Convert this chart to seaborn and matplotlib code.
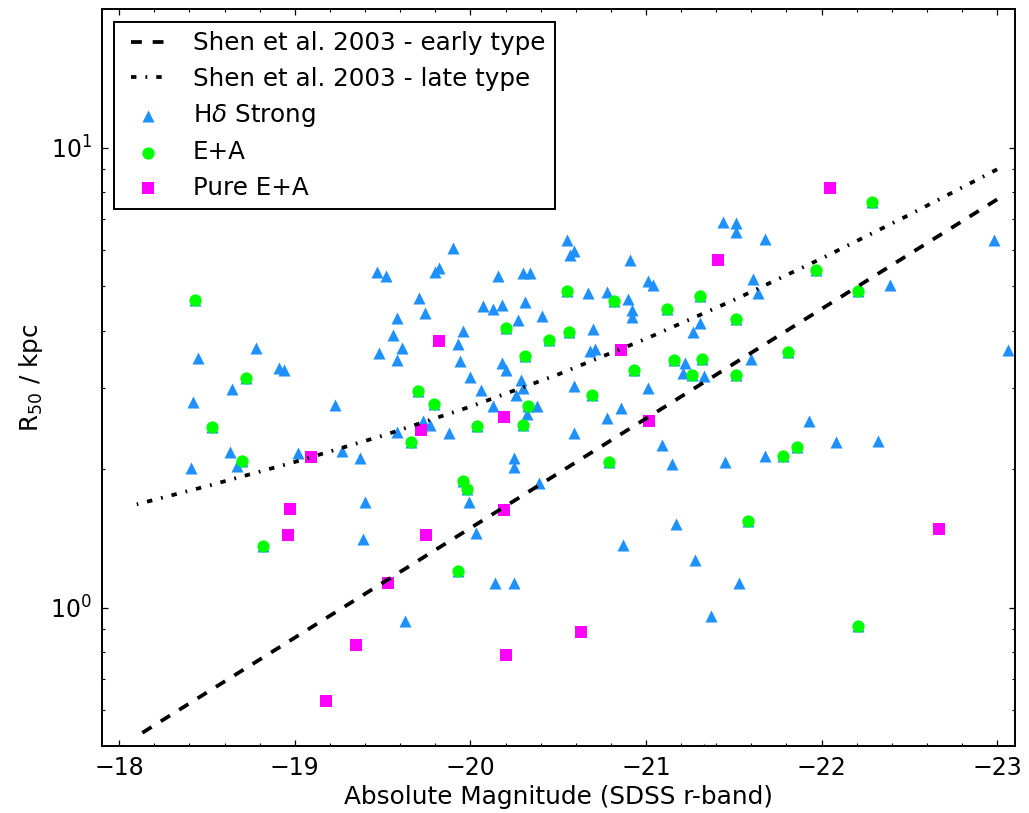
import matplotlib
matplotlib.use("Agg")
import matplotlib.pyplot as plt
import seaborn as sns
import numpy as np

# H-delta strong galaxies (triangles only; E+A objects get a triangle too)
hd_mag = [-19.47, -19.52, -19.58, -19.56, -19.61, -19.48, -19.58, -18.78, -18.45, -18.91,
          -18.94, -18.64, -18.42, -19.23, -18.63, -18.67, -18.41, -19.02, -19.27, -19.37,
          -19.58, -19.40, -19.39, -19.90, -19.80, -19.82, -20.55, -20.57, -20.59, -20.91,
          -21.01, -21.04, -20.16, -20.30, -20.34, -20.67, -20.78, -20.90, -20.92, -20.92,
          -19.71, -19.74, -20.07, -20.13, -20.18, -20.31, -20.27, -20.41, -19.96, -19.93,
          -20.70, -20.68, -20.71, -21.31, -21.27, -20.18, -19.94, -21.22, -21.21, -21.33,
          -20.20, -20.00, -20.06, -20.29, -20.30, -20.26, -20.59, -21.01, -20.13, -20.38,
          -20.32, -20.86, -20.78, -19.88, -19.73, -19.77, -20.59, -21.09, -21.15, -20.25,
          -20.25, -19.99, -20.39, -20.03, -21.17, -20.87, -21.28, -20.14, -20.25, -19.63,
          -21.37, -21.33, -21.53, -21.60, -21.93, -22.08, -22.32, -21.68, -21.45, -21.44,
          -21.51, -21.51, -21.68, -22.98, -21.61, -21.64, -22.39, -23.06]
hd_r = [5.38, 5.27, 4.26, 3.92, 3.67, 3.58, 3.46, 3.67, 3.49, 3.32,
        3.29, 2.98, 2.80, 2.76, 2.18, 2.03, 2.01, 2.17, 2.19, 2.11,
        2.41, 1.70, 1.41, 6.05, 5.38, 5.47, 6.31, 5.85, 5.97, 5.71,
        5.12, 5.03, 5.27, 5.35, 5.33, 4.84, 4.85, 4.68, 4.44, 4.28,
        4.71, 4.38, 4.53, 4.45, 4.56, 4.62, 4.22, 4.30, 4.00, 3.75,
        4.04, 3.62, 3.65, 4.15, 3.98, 3.40, 3.44, 3.40, 3.24, 3.19,
        3.28, 3.18, 2.97, 3.12, 3.00, 2.90, 3.04, 3.00, 2.75, 2.74,
        2.63, 2.72, 2.59, 2.40, 2.55, 2.50, 2.40, 2.26, 2.05, 2.11,
        2.02, 1.70, 1.87, 1.45, 1.52, 1.37, 1.27, 1.13, 1.13, 0.936,
        0.959, 0.493, 1.13, 3.47, 2.54, 2.29, 2.30, 2.14, 2.07, 6.88,
        6.86, 6.56, 6.32, 6.31, 5.18, 4.82, 5.03, 3.63]

# E+A galaxies
ea_mag = [-18.43, -18.72, -18.53, -18.70, -19.66, -18.82, -20.55, -20.82, -21.12, -21.31,
          -20.20, -20.45, -20.56, -20.31, -21.16, -21.32, -20.93, -21.26, -19.70, -19.79,
          -20.69, -20.33, -20.04, -20.30, -20.79, -19.96, -19.98, -19.93, -22.29, -21.97,
          -22.21, -21.51, -21.51, -21.81, -21.78, -21.86, -21.58, -22.21]
ea_r = [4.67, 3.15, 2.47, 2.08, 2.29, 1.36, 4.89, 4.64, 4.47, 4.77,
        4.06, 3.82, 3.98, 3.52, 3.45, 3.47, 3.29, 3.21, 2.96, 2.77,
        2.90, 2.74, 2.48, 2.49, 2.07, 1.88, 1.81, 1.20, 7.63, 5.43,
        4.87, 4.24, 3.21, 3.60, 2.14, 2.24, 1.54, 0.910]

# Pure E+A galaxies
pea_mag = [-19.82, -20.86, -19.09, -20.19, -21.02, -19.72, -18.97, -18.96, -20.19, -19.75,
           -19.53, -19.35, -19.18, -20.20, -20.63, -22.05, -21.41, -22.67]
pea_r = [3.80, 3.64, 2.13, 2.60, 2.54, 2.43, 1.64, 1.44, 1.63, 1.44,
         1.13, 0.830, 0.625, 0.788, 0.883, 8.18, 5.70, 1.48]

# Shen et al. 2003 size-luminosity relations
early_mag = [-18.1, -23.0]
early_r = [0.525, 7.72]
late_mag = [-18.1, -18.5, -19.0, -19.5, -20.0, -20.5, -21.0, -21.5, -22.0, -22.5, -23.0]
late_r = [1.677, 1.837, 2.073, 2.365, 2.735, 3.214, 3.841, 4.664, 5.742, 7.148, 8.973]

sns.set_style("ticks")
plt.rcParams.update({
    "font.family": ["DejaVu Sans"],
    "mathtext.fontset": "dejavusans",
    "text.color": "black",
    "axes.labelcolor": "black",
    "lines.scale_dashes": False,
    "axes.linewidth": 1.4,
    "xtick.direction": "in",
    "ytick.direction": "in",
    "xtick.top": True,
    "ytick.right": True,
    "xtick.major.size": 4.5,
    "ytick.major.size": 4.5,
    "xtick.minor.size": 2.5,
    "ytick.minor.size": 2.5,
    "xtick.major.width": 0.9,
    "ytick.major.width": 0.9,
    "xtick.minor.width": 0.8,
    "ytick.minor.width": 0.8,
    "xtick.color": "black",
    "ytick.color": "black",
    "xtick.labelcolor": "black",
    "ytick.labelcolor": "black",
    "axes.edgecolor": "black",
})

fig = plt.figure(figsize=(10.29, 8.13), dpi=100)
ax = fig.add_axes([0.0988, 0.0824, 0.8873, 0.9062])
ax.set_yscale("log")

sns.lineplot(x=early_mag, y=early_r, ax=ax, color="black", lw=2.7,
             linestyle=(0, (7.8, 7.8)), label="Shen et al. 2003 - early type", zorder=3)
sns.lineplot(x=late_mag, y=late_r, ax=ax, color="black", lw=2.7,
             linestyle=(0, (3.9, 6.5, 1.3, 6.5)), label="Shen et al. 2003 - late type", zorder=3)

sns.scatterplot(x=hd_mag + ea_mag, y=hd_r + ea_r, ax=ax, marker="^", color="#1E90FF",
                s=75, linewidth=0, label=r"H$\delta$ Strong", zorder=2)
sns.scatterplot(x=ea_mag, y=ea_r, ax=ax, marker="o", color="#00FF00",
                s=78, linewidth=0, label="E+A", zorder=2)
sns.scatterplot(x=pea_mag, y=pea_r, ax=ax, marker="s", color="#FF00FF",
                s=85, linewidth=0, label="Pure E+A", zorder=2)

ax.set_xlim(-17.9, -23.1)
ax.set_ylim(0.5, 20)
ax.xaxis.set_major_locator(matplotlib.ticker.MultipleLocator(1))
ax.xaxis.set_minor_locator(matplotlib.ticker.MultipleLocator(0.2))
ax.tick_params(axis="both", which="major", labelsize=17, pad=7)

ax.set_xlabel("Absolute Magnitude (SDSS r-band)", fontsize=17.8, color="black")
ax.set_ylabel(r"R$_{50}$ / kpc", fontsize=17.8, color="black")

leg = ax.legend(loc="upper left", fontsize=17.7, numpoints=2, scatterpoints=1,
                handlelength=2.0, handletextpad=0.8, borderpad=0.4, labelspacing=0.46,
                borderaxespad=0.5, fancybox=False, framealpha=1, edgecolor="black")
leg.get_frame().set_linewidth(1.4)
for txt in leg.get_texts():
    txt.set_color("black")

fig.savefig("out.png", dpi=100)
